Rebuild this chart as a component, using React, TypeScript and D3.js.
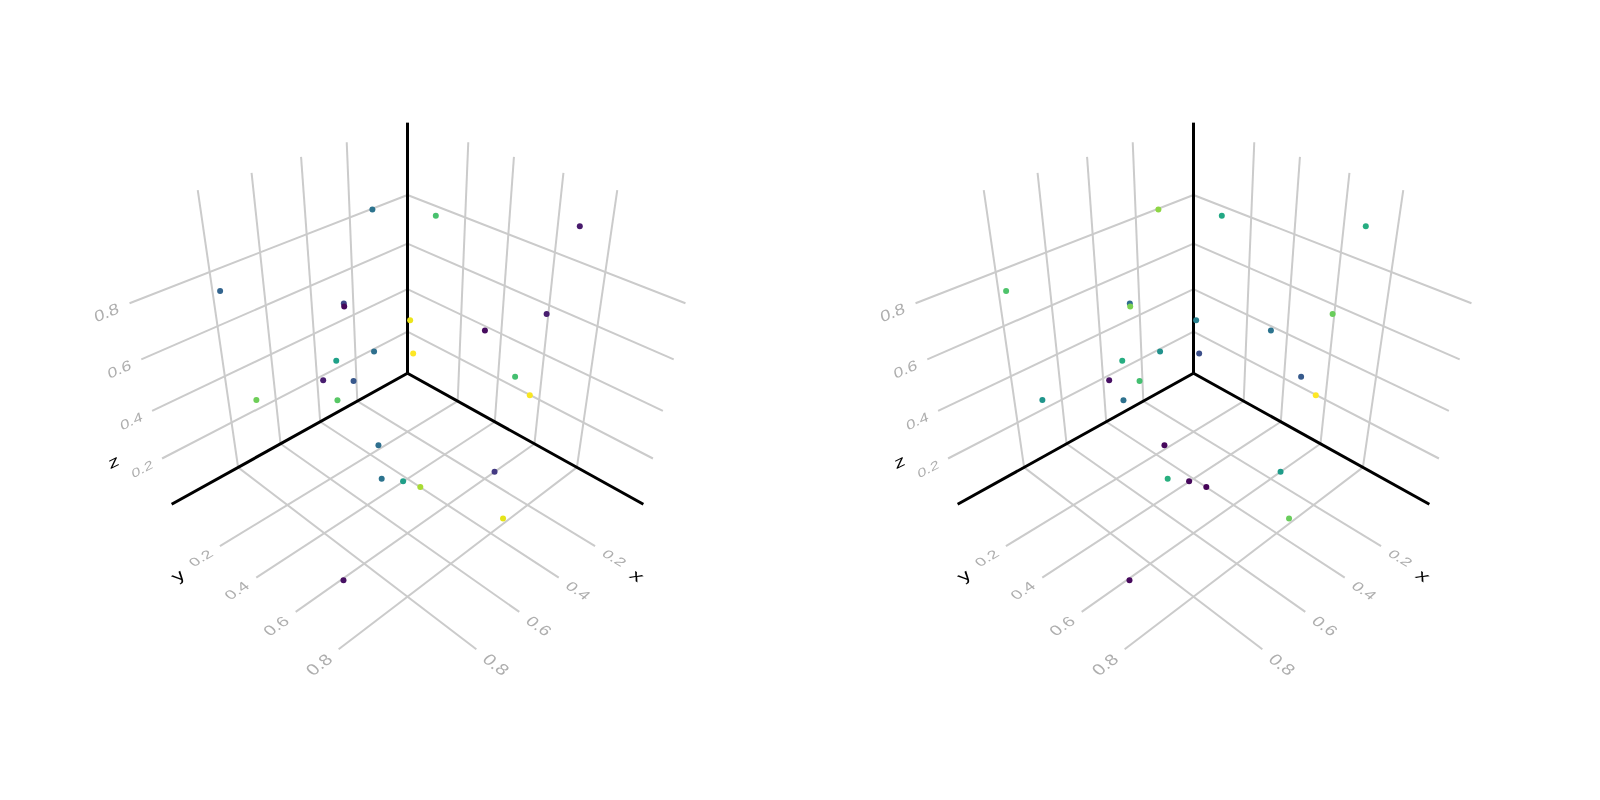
import React from "react";
import * as d3 from "d3";

const tickValues = [0.2, 0.4, 0.6, 0.8];
const pointX = [0.265, 0.904, 0.446, 0.333, 0.235, 0.539, 0.497, 0.372, 0.785, 0.399, 0.432, 0.638, 0.774, 0.891, 0.4, 0.596, 0.93, 0.152, 0.029, 0.019, 0.106, 0.101, 0.02, 0.056, 0.046];
const pointY = [0.099, 0.124, 0.142, 0.01, 0.056, 0.198, 0.067, 0.089, 0.062, 0.022, 0.282, 0.518, 0.756, 0.938, 0.797, 0.992, 0.648, 0.284, 0.763, 0.67, 0.12, 0.479, 0.052, 0.591, 0.654];
const pointZ = [0.908, 0.854, 0.639, 0.53, 0.315, 0.477, 0.315, 0.262, 0.37, 0.154, 0.1, 0.208, 0.424, 0.587, 0.262, 0.316, 0.049, 0.908, 0.984, 0.639, 0.424, 0.53, 0.208, 0.369, 0.316];
const colorLeft = [0.38, 0.32, 0.21, 0.02, 0.36, 0.57, 0.08, 0.27, 0.78, 0.74, 0.36, 0.38, 0.56, 0.87, 0.17, 0.96, 0.04, 0.71, 0.07, 0.08, 0.97, 0.03, 1.0, 0.7, 0.99];
const colorRight = [0.83, 0.72, 0.35, 0.8, 0.5, 0.62, 0.04, 0.7, 0.52, 0.37, 0.02, 0.63, 0.02, 0.01, 0.55, 0.77, 0.02, 0.6, 0.62, 0.77, 0.43, 0.38, 0.24, 0.28, 1.0];

const horizScale = d3.scaleLinear().domain([-0.0925, 1.0871]).range([0, 1]);
const vertScale = d3.scaleLinear().domain([-0.00844, 1.0735]).range([0, 1]);

// Perspective camera: maps box coordinates (u, v, w in 0..1) to the screen.
const ORIGIN = [407.5, 373.3];
const project = (u: number, v: number, w: number): [number, number] => {
  const D = 1 - 0.18 * (u + v) - 0.1662 * w;
  return [ORIGIN[0] + (193.4 * (u - v)) / D, ORIGIN[1] + (107.4 * (u + v) - 209 * w) / D];
};

const line3 = (a: number[], b: number[]) => {
  const p = project(a[0], a[1], a[2]);
  const q = project(b[0], b[1], b[2]);
  return d3.line()([p, q]) as string;
};

// Text lying in a plane of the box: local affine form of the camera at its anchor.
const FONT = 20;
const planeText = (at: number[], base: number[], up: number[], em: number) => {
  const e = 0.001;
  const s = project(at[0], at[1], at[2]);
  const b = project(at[0] + base[0] * e, at[1] + base[1] * e, at[2] + base[2] * e);
  const t = project(at[0] + up[0] * e, at[1] + up[1] * e, at[2] + up[2] * e);
  const k = em / FONT / e;
  return `matrix(${(b[0] - s[0]) * k} ${(b[1] - s[1]) * k} ${(s[0] - t[0]) * k} ${(s[1] - t[1]) * k} ${s[0]} ${s[1]})`;
};

const GRID = "#cbcbcb";
const TICK = "#aeaeae";
const EM = 0.048;
const TITLE_EM = 0.06;
const LABEL_OUT = 1.065;

function Label({ at, base, up, text, color, em }: { at: number[]; base: number[]; up: number[]; text: string; color: string; em: number }) {
  return (
    <text
      transform={planeText(at, base, up, em)}
      y={FONT * 0.36}
      textAnchor="middle"
      fontFamily="'Liberation Sans', Arial, sans-serif"
      fontSize={FONT}
      fill={color}
    >
      {text}
    </text>
  );
}

function Panel({ dx, colors }: { dx: number; colors: number[] }) {
  const hTicks = tickValues.map((t) => horizScale(t));
  const vTicks = tickValues.map((t) => vertScale(t));
  const gridPaths: string[] = [];
  hTicks.forEach((t) => {
    gridPaths.push(line3([t, 0, 0], [t, 1, 0]));
    gridPaths.push(line3([0, t, 0], [1, t, 0]));
    gridPaths.push(line3([t, 0, 0], [t, 0, 1]));
    gridPaths.push(line3([0, t, 0], [0, t, 1]));
  });
  vTicks.forEach((w) => {
    gridPaths.push(line3([0, 0, w], [1, 0, w]));
    gridPaths.push(line3([0, 0, w], [0, 1, w]));
  });
  const axes = [
    line3([0, 0, 0], [1, 0, 0]),
    line3([0, 0, 0], [0, 1, 0]),
    line3([0, 0, 0], [0, 0, 1]),
  ];
  return (
    <g transform={`translate(${dx},0)`}>
      {gridPaths.map((d, i) => (
        <path key={i} d={d} stroke={GRID} strokeWidth={2} fill="none" />
      ))}
      {axes.map((d, i) => (
        <path key={i} d={d} stroke="#000" strokeWidth={3} fill="none" strokeLinecap="butt" />
      ))}
      <g style={{ opacity: 0.999 }}>
        {tickValues.map((t) => (
          <g key={t}>
            <Label at={[horizScale(t), LABEL_OUT, 0]} base={[0, -1, 0]} up={[-1, 0, 0]} text={t.toFixed(1)} color={TICK} em={EM} />
            <Label at={[LABEL_OUT, horizScale(t), 0]} base={[1, 0, 0]} up={[0, -1, 0]} text={t.toFixed(1)} color={TICK} em={EM} />
            <Label at={[0, LABEL_OUT, vertScale(t)]} base={[0, -1, 0]} up={[0, 0, 1]} text={t.toFixed(1)} color={TICK} em={EM} />
          </g>
        ))}
        <Label at={[1.147, 0.259, 0]} base={[1, 0, 0]} up={[0, -1, 0]} text="x" color="#000" em={TITLE_EM} />
        <Label at={[0.259, 1.147, 0]} base={[0, -1, 0]} up={[-1, 0, 0]} text="y" color="#000" em={TITLE_EM} />
        <Label at={[0, 1.14, 0.27]} base={[0, -1, 0]} up={[0, 0, 1]} text="z" color="#000" em={TITLE_EM} />
      </g>
      {pointX.map((x, i) => {
        const [cx, cy] = project(horizScale(pointY[i]), horizScale(x), vertScale(pointZ[i]));
        return <circle key={i} cx={cx} cy={cy} r={3} fill={d3.interpolateViridis(colors[i])} />;
      })}
    </g>
  );
}

export default function App() {
  return (
    <svg width={1600} height={800} style={{ position: "absolute", left: 0, top: 0, display: "block", background: "#fff" }}>
      <Panel dx={0} colors={colorLeft} />
      <Panel dx={786} colors={colorRight} />
    </svg>
  );
}
